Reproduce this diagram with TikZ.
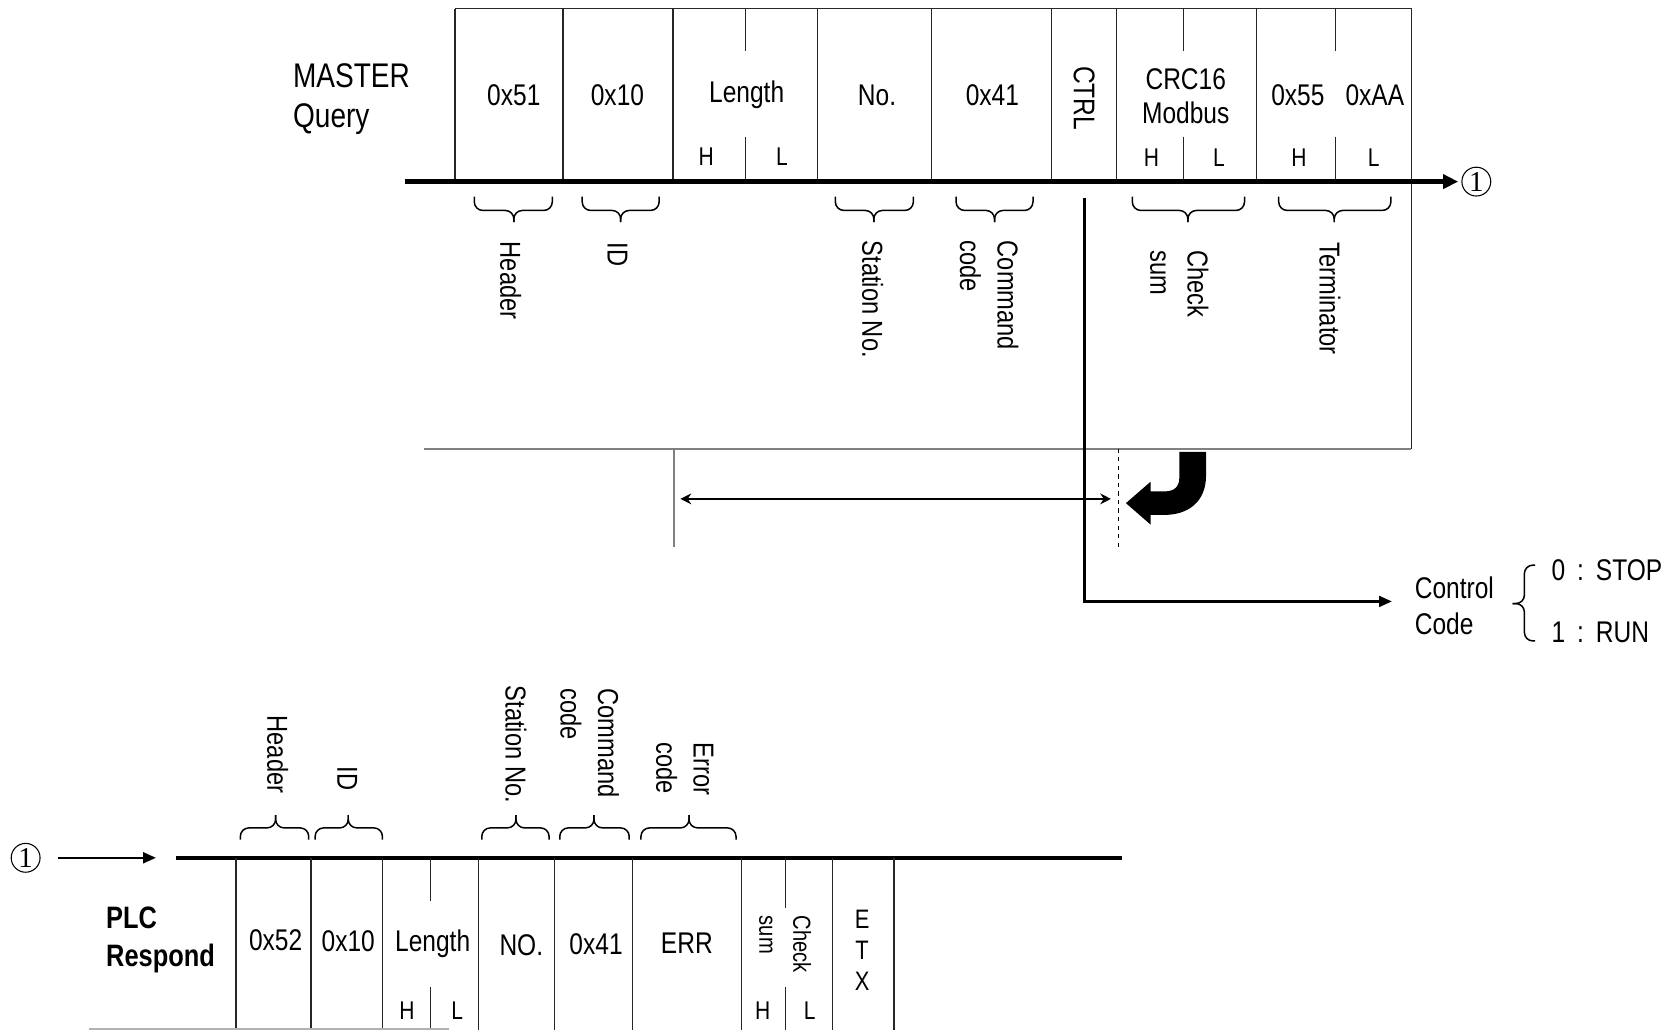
\documentclass[tikz,border=0pt]{standalone}
\usepackage{fontspec}
\setmainfont{Liberation Sans}[FakeStretch=0.82]
\newfontfamily\numserif{Liberation Serif}
\usepackage{tikz}
\usetikzlibrary{arrows.meta,positioning}

\begin{document}
\begin{tikzpicture}[
  x=0.5pt, y=-0.5pt,
  field/.style={font=\fontsize{14}{16}\selectfont, align=center, inner sep=0pt},
  halfLabel/.style={font=\fontsize{12}{14}\selectfont, inner sep=0pt},
  title/.style={anchor=west, align=left, inner sep=0pt, font=\fontsize{16}{18.5}\selectfont},
  downNote/.style={rotate=-90, anchor=west, align=left, inner sep=0pt, font=\fontsize{13.5}{17.5}\selectfont},
  upNote/.style={rotate=-90, anchor=east, align=left, inner sep=0pt, font=\fontsize{13.5}{17.5}\selectfont},
  cellLine/.style={draw=black!85, line width=0.6pt},
  bus/.style={line width=2pt},
  braceLine/.style={line width=0.7pt, rounded corners=4pt},
  arrow/.style={-{Triangle[length=7pt, width=6.5pt]}},
  circled/.style={circle, draw, line width=0.5pt, inner sep=0pt, minimum width=12.5pt, minimum height=13.5pt, font=\numserif\fontsize{13.5}{13.5}\selectfont}
]
\useasboundingbox (0,0) rectangle (1568,964);

% ---- master query frame ----
\node[title] (master) at (274,93) {MASTER\\Query};
\draw[cellLine] (426,8) -- (1321,8) -- (1321,420);
\draw[black!50, line width=1pt] (397,420) -- (1321,420);
\foreach \x in {426,527,630,765,872,984,1045,1176}
  \draw[cellLine] (\x,8) -- (\x,170);
\foreach \x in {698,1108,1250}{
  \draw[cellLine] (\x,8) -- (\x,48);
  \draw[cellLine] (\x,128) -- (\x,170);
}

\node[field] (q51) at (481,89) {0x51};
\node[field] (q10) at (578,89) {0x10};
\node[field] (qLen) at (699,89) {Length};
\node[field] (qNo) at (821,89) {No.};
\node[field] (q41) at (929,89) {0x41};
\node[field, rotate=-90] (qCtrl) at (1015,92) {CTRL};
\node[field] (qCrc) at (1110,90) {CRC16\\Modbus};
\node[field] (q55) at (1215,89) {0x55};
\node[field] (qAA) at (1287,89) {0xAA};

\node[halfLabel] (qLenH) at (661,147) {H};
\node[halfLabel] (qLenL) at (732,147) {L};
\node[halfLabel] (qCrcH) at (1078,148) {H};
\node[halfLabel] (qCrcL) at (1141,148) {L};
\node[halfLabel] (qEndH) at (1216,148) {H};
\node[halfLabel] (qEndL) at (1286,148) {L};

\coordinate (qStart) at (379,170);
\node[circled] (qOut) at (1382,170) {1};
\draw[bus, arrow, shorten >=1.5pt] (qStart) -- (qOut);

% braces under the query
\foreach \a/\m/\b in {444/481/517, 545/581/617, 782/818/855, 895/931/967, 1060/1112/1165, 1197/1249/1302}{
  \draw[braceLine] (\a,184) |- (\m,197) -- (\m,208);
  \draw[braceLine] (\b,184) |- (\m,197) -- (\m,208);
}

\node[downNote] (qHeader) at (478,226) {Header};
\node[downNote] (qId) at (578,227) {ID};
\node[downNote] (qStation) at (817,225) {Station No.};
\node[downNote] (qCmd) at (926,225) {Command\\code};
\node[downNote] (qSum) at (1104,234) {Check\\sum};
\node[downNote] (qTerm) at (1245,227) {Terminator};

% control code
\coordinate (ctrlTop) at (1015,185);
\coordinate (ctrlEnd) at (1303,563);
\draw[line width=1.2pt, -{Triangle[length=6pt, width=5pt]}] (ctrlTop) |- (ctrlEnd);
\node[title, font=\fontsize{14}{16.5}\selectfont] (ctrlCode) at (1324,567) {Control\\Code};
\draw[braceLine] (1437,529) -| (1427,565) -- (1416,565);
\draw[braceLine] (1437,600) -| (1427,565) -- (1416,565);
\node[title, font=\fontsize{14}{16}\selectfont] (stop) at (1452,534) {0\hspace{0.4em}:\hspace{0.4em}STOP};
\node[title, font=\fontsize{14}{16}\selectfont] (run) at (1452,592) {1\hspace{0.4em}:\hspace{0.4em}RUN};

% span marks
\draw[black!50, line width=0.7pt] (631,420) -- (631,512);
\draw[line width=0.4pt, dash pattern=on 2pt off 2pt] (1047,420) -- (1047,512);
\coordinate (spanL) at (637,467);
\coordinate (spanR) at (1040,467);
\draw[line width=1pt, {Stealth[length=5pt, width=5pt]}-{Stealth[length=5pt, width=5pt]}] (spanL) -- (spanR);

% turn arrow
\fill (1104,423) -- (1129,423) -- (1129,445)
  .. controls (1129,470) and (1112,482) .. (1090,482)
  -- (1077,482) -- (1077,491) -- (1054,471) -- (1077,451) -- (1077,460) -- (1090,460)
  .. controls (1099,460) and (1104,456) .. (1104,447) -- cycle;

% ---- plc respond frame ----
\node[circled] (rIn) at (24,803) {1};
\coordinate (rTip) at (146,803);
\draw[line width=1.2pt, -{Triangle[length=6pt, width=5pt]}, shorten <=8pt] (rIn) -- (rTip);
\coordinate (rStart) at (165,803);
\coordinate (rEnd) at (1050,803);
\draw[bus] (rStart) -- (rEnd);
\foreach \x in {221,291,358,448,519,592,694,779,837}
  \draw[cellLine] (\x,803) -- (\x,964);
\foreach \x/\a in {403/843,735/850}{
  \draw[cellLine] (\x,803) -- (\x,\a);
  \draw[cellLine] (\x,924) -- (\x,964);
}
\draw[black!30, line width=1pt] (83,963) -- (420,963);

\node[title, font=\bfseries\fontsize{14.5}{17.5}\selectfont] (plc) at (99,880) {PLC\\Respond};
\node[field] (r52) at (258,880) {0x52};
\node[field] (r10) at (326,881) {0x10};
\node[field] (rLen) at (405,883) {Length};
\node[field] (rNo) at (488,885) {NO.};
\node[field] (r41) at (558,884) {0x41};
\node[field] (rErr) at (643,883) {ERR};
\node[downNote, font=\fontsize{11.5}{16}\selectfont] (rSum) at (735,857) {Check\\sum};
\node[field, font=\fontsize{12.5}{14.5}\selectfont] (rEtx) at (807,890) {E\\T\\X};

\node[halfLabel] (rLenH) at (381,946) {H};
\node[halfLabel] (rLenL) at (428,946) {L};
\node[halfLabel] (rSumH) at (714,946) {H};
\node[halfLabel] (rSumL) at (758,946) {L};

% braces over the respond
\foreach \a/\m/\b in {225/258/289, 295/326/358, 451/483/514, 524/556/589, 600/645/689}{
  \draw[braceLine] (\a,786) |- (\m,775) -- (\m,763);
  \draw[braceLine] (\b,786) |- (\m,775) -- (\m,763);
}

\node[upNote] (rHeader) at (260,743) {Header};
\node[upNote] (rId) at (325,740) {ID};
\node[upNote] (rStation) at (483,752) {Station No.};
\node[upNote] (rCmd) at (552,747) {Command\\code};
\node[upNote] (rErrCode) at (641,745) {Error\\code};
\end{tikzpicture}
\end{document}
